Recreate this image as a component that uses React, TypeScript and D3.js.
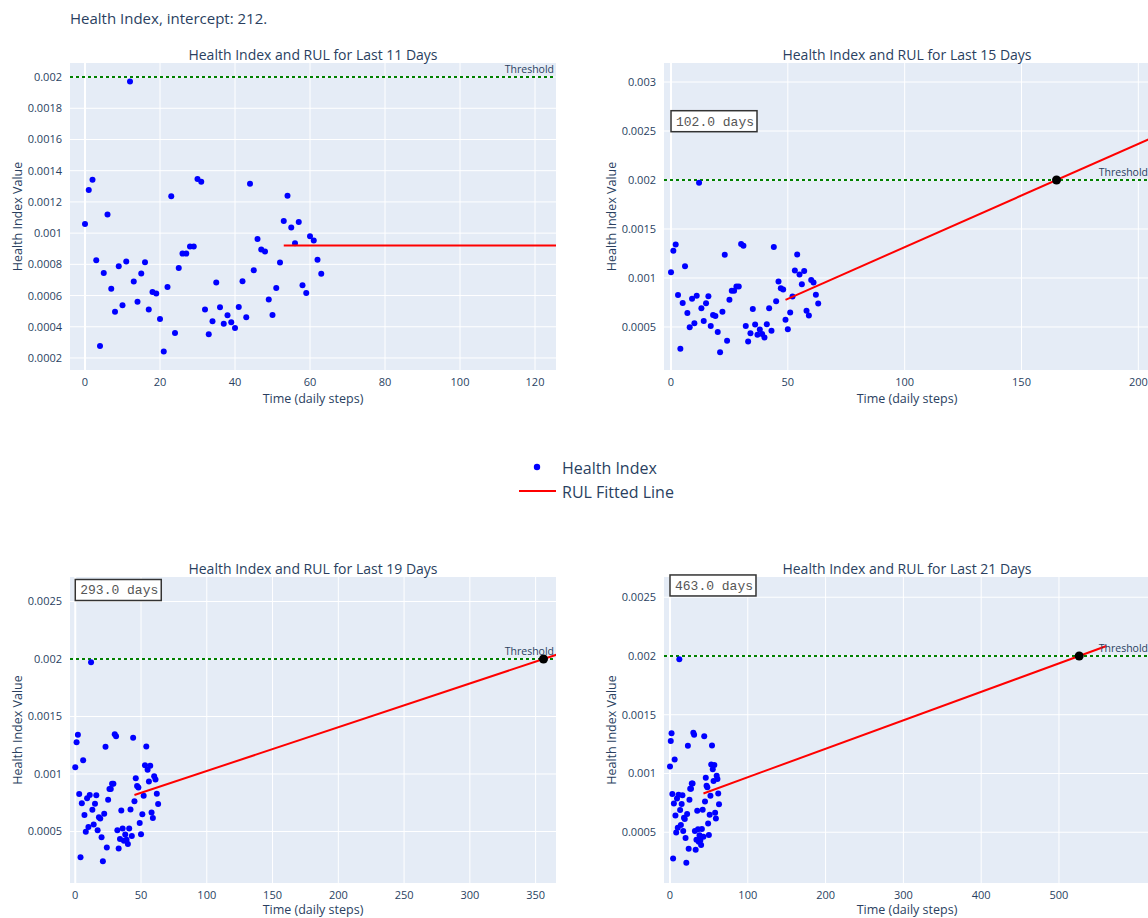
import React from 'react';
import * as d3 from 'd3';

// health index per daily step (steps 0..63)
const hiValues = [
  0.001059, 0.001277, 0.001342, 0.000826, 0.000277, 0.000745, 0.001119, 0.000643,
  0.000497, 0.000788, 0.000538, 0.000818, 0.001972, 0.00069, 0.000561, 0.000741,
  0.000814, 0.00051, 0.000623, 0.000613, 0.00045, 0.000241, 0.000655, 0.001237,
  0.00036, 0.000777, 0.000869, 0.000869, 0.000914, 0.000914, 0.001346, 0.001329,
  0.00051, 0.000352, 0.000435, 0.000683, 0.000525, 0.00042, 0.000474, 0.000429,
  0.000392, 0.000527, 0.000692, 0.000461, 0.001316, 0.000762, 0.000963, 0.000895,
  0.000882, 0.000574, 0.000476, 0.000649, 0.000811, 0.001077, 0.001239, 0.001036,
  0.000935, 0.001072, 0.000666, 0.000617, 0.00098, 0.000953, 0.000829, 0.000739,
];

const windowDays = [11, 15, 19, 21];
const rulLabels = ['', '102.0 days', '293.0 days', '463.0 days'];
const fitStartX = [53, 49, 45, 43];
const fitStartY = [0.00092, 0.000777, 0.000817, 0.00083];
const crossX = [null, 165, 356, 526];
const fitEndX = [140, 215, 375, 561];
const threshold = 0.002;

const xDomains = [[-4, 125.6], [-3, 205], [-4, 365.5], [-7.7, 617]];
const yDomains = [[0.000123, 0.00209], [0.000061, 0.003194], [0.000052, 0.002713], [0.000068, 0.002672]];
const xTicks = [
  [0, 20, 40, 60, 80, 100, 120],
  [0, 50, 100, 150, 200],
  [0, 50, 100, 150, 200, 250, 300, 350],
  [0, 100, 200, 300, 400, 500],
];
const yTicks = [
  [0.0002, 0.0004, 0.0006, 0.0008, 0.001, 0.0012, 0.0014, 0.0016, 0.0018, 0.002],
  [0.0005, 0.001, 0.0015, 0.002, 0.0025, 0.003],
  [0.0005, 0.001, 0.0015, 0.002, 0.0025],
  [0.0005, 0.001, 0.0015, 0.002, 0.0025],
];

const W = 1148;
const H = 918;
const font = '"Open Sans", verdana, arial, sans-serif';
const ink = '#2a3f5f';
const boxes = [
  { left: 70, top: 63, width: 486, height: 307 },
  { left: 664, top: 63, width: 486, height: 307 },
  { left: 70, top: 577, width: 486, height: 306 },
  { left: 664, top: 577, width: 486, height: 306 },
];

const Panel = ({ i }: { i: number }) => {
  const b = boxes[i];
  const x = d3.scaleLinear().domain(xDomains[i]).range([b.left, b.left + b.width]);
  const y = d3.scaleLinear().domain(yDomains[i]).range([b.top + b.height, b.top]);

  const slope = crossX[i] == null ? 0 : (threshold - fitStartY[i]) / ((crossX[i] as number) - fitStartX[i]);
  const fitLine = [
    [fitStartX[i], fitStartY[i]],
    [fitEndX[i], fitStartY[i] + slope * (fitEndX[i] - fitStartX[i])],
  ];
  const line = d3.line<number[]>().x((d) => x(d[0])).y((d) => y(d[1]));
  const clipId = `clip${i}`;

  return (
    <g>
      <defs>
        <clipPath id={clipId}>
          <rect x={b.left} y={b.top} width={b.width} height={b.height} />
        </clipPath>
      </defs>
      <rect x={b.left} y={b.top} width={b.width} height={b.height} fill="#E5ECF6" />
      {xTicks[i].map((t) => (
        <line key={'gx' + t} x1={x(t)} x2={x(t)} y1={b.top} y2={b.top + b.height}
          stroke="#fff" strokeWidth={t === 0 ? 2 : 1} />
      ))}
      {yTicks[i].map((t) => (
        <line key={'gy' + t} x1={b.left} x2={b.left + b.width} y1={y(t)} y2={y(t)} stroke="#fff" strokeWidth={1} />
      ))}
      {xTicks[i].map((t) => (
        <text key={'tx' + t} x={x(t)} y={b.top + b.height + 16} textAnchor="middle"
          fontSize={11} fill={ink} fontFamily={font}>{t}</text>
      ))}
      {yTicks[i].map((t) => (
        <text key={'ty' + t} x={b.left - 8} y={y(t) + 4} textAnchor="end"
          fontSize={11} fill={ink} fontFamily={font}>{String(t)}</text>
      ))}
      <text x={b.left + b.width / 2} y={b.top - 3} textAnchor="middle" fontSize={14}
        fill={ink} fontFamily={font}>{`Health Index and RUL for Last ${windowDays[i]} Days`}</text>
      <text x={b.left + b.width / 2} y={b.top + b.height + (i < 2 ? 33 : 31)} textAnchor="middle" fontSize={12.5}
        fill={ink} fontFamily={font}>Time (daily steps)</text>
      <text transform={`translate(${b.left - 48},${b.top + b.height / 2}) rotate(-90)`} textAnchor="middle"
        fontSize={12.5} fill={ink} fontFamily={font}>Health Index Value</text>

      <g clipPath={`url(#${clipId})`}>
        <line x1={b.left} x2={b.left + b.width} y1={y(threshold)} y2={y(threshold)}
          stroke="green" strokeWidth={2} strokeDasharray="3,3" />
        {hiValues.map((v, k) => (
          <circle key={k} cx={x(k)} cy={y(v)} r={3} fill="blue" />
        ))}
        <path d={line(fitLine) || ''} fill="none" stroke="red" strokeWidth={2} />
        {crossX[i] != null && (
          <circle cx={x(crossX[i] as number)} cy={y(threshold)} r={4.5} fill="#000" />
        )}
      </g>
      <text x={b.left + b.width - 2} y={y(threshold) - 4} textAnchor="end" fontSize={10.5}
        fill={ink} fontFamily={font}>Threshold</text>

      {rulLabels[i] && (
        <g transform={`translate(${x(0)},${y(0.0026)})`}>
          <rect x={0} y={-10.5} width={86} height={21} fill="#fff" stroke="#333" strokeWidth={1.5} />
          <text x={5} y={4.5} fontSize={13} fill="#555" fontFamily='"Liberation Mono", "Courier New", monospace'>
            {rulLabels[i]}
          </text>
        </g>
      )}
    </g>
  );
};

export default function App() {
  return (
    <svg width={W} height={H} style={{ position: 'absolute', left: 0, top: 0, background: '#fff' }}>
      <text x={70} y={24} fontSize={15} fill={ink} fontFamily={font}>Health Index, intercept: 212.</text>
      {[0, 1, 2, 3].map((i) => <Panel key={i} i={i} />)}
      <g fontFamily={font} fontSize={16} fill={ink}>
        <circle cx={537} cy={467} r={3.2} fill="blue" />
        <text x={562} y={473.5}>Health Index</text>
        <line x1={519} x2={556} y1={491} y2={491} stroke="red" strokeWidth={2} />
        <text x={562} y={497.5}>RUL Fitted Line</text>
      </g>
    </svg>
  );
}
